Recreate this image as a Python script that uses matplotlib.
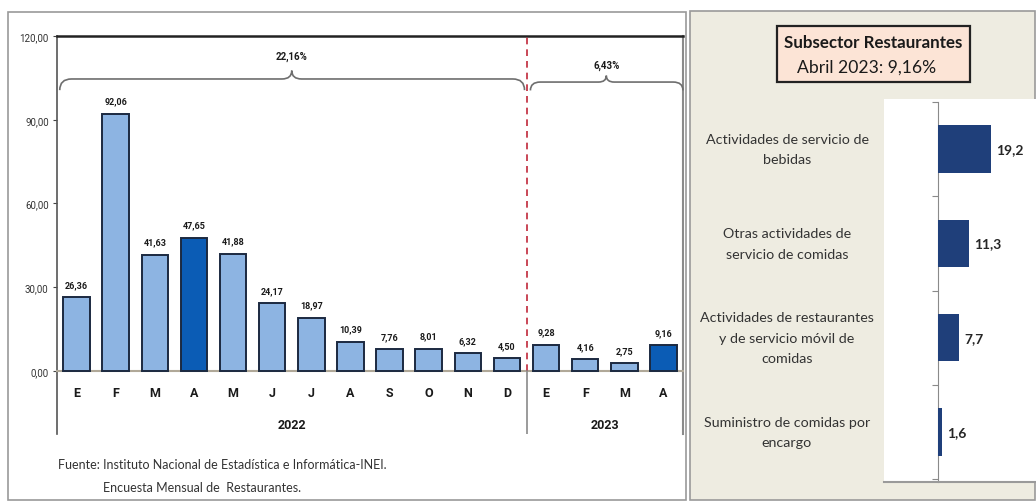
import numpy as np
import matplotlib
matplotlib.use("Agg")
import matplotlib.pyplot as plt
from matplotlib.patches import Rectangle, PathPatch
from matplotlib.path import Path
from matplotlib.transforms import blended_transform_factory

# data
months = ["E", "F", "M", "A", "M", "J", "J", "A", "S", "O", "N", "D",
          "E", "F", "M", "A"]
values = [26.36, 92.06, 41.63, 47.65, 41.88, 24.17, 18.97, 10.39, 7.76,
          8.01, 6.32, 4.50, 9.28, 4.16, 2.75, 9.16]
highlight = [3, 15]
years = ["2022", "2023"]
year_growth = ["22,16%", "6,43%"]

activities = ["Actividades de servicio de\nbebidas",
              "Otras actividades de\nservicio de comidas",
              "Actividades de restaurantes\ny de servicio móvil de\ncomidas",
              "Suministro de comidas por\nencargo"]
act_values = [19.2, 11.3, 7.7, 1.6]

W, H = 1036, 502
NARROW = ["Roboto", "DejaVu Sans"]
SOFT = ["Lato", "DejaVu Sans"]


def fx(px):
    return px / W


def fy(py):
    return 1 - py / H


def fmt(v, d=2):
    return f"{v:.{d}f}".replace(".", ",")


fig = plt.figure(figsize=(W / 100, H / 100), dpi=100)

# panel backgrounds
fig.patches.append(Rectangle((fx(8), fy(501)), fx(686) - fx(8), fy(13) - fy(501),
                             transform=fig.transFigure, facecolor="white",
                             edgecolor="#9a9a9a", lw=1.2, zorder=-5))
fig.patches.append(Rectangle((fx(690), fy(501)), fx(1035) - fx(690), fy(12) - fy(501),
                             transform=fig.transFigure, facecolor="#eeece1",
                             edgecolor="#9a9a9a", lw=1.2, zorder=-5))

# ---- left chart ----
ax = fig.add_axes([fx(57), fy(435), fx(683) - fx(57), fy(37) - fy(435)])
ax.set_facecolor("none")
x = np.arange(len(values))
colors = ["#0b5cb5" if i in highlight else "#8db4e2" for i in x]
ax.bar(x, values, width=0.68, color=colors, edgecolor="#1b2940", lw=1.4, zorder=3)
for xi, v in zip(x, values):
    ax.annotate(fmt(v), (xi, v), xytext=(0, 6), textcoords="offset points",
                ha="center", va="bottom", fontsize=6.5, fontweight="bold",
                family=NARROW, color="#1a1a1a")

ax.set_xlim(-0.5, len(values) - 0.5)
ax.set_ylim(-22.6, 120)
ax.set_yticks([0, 30, 60, 90, 120])
ax.set_yticklabels([fmt(t) for t in [0, 30, 60, 90, 120]], family=NARROW,
                   fontsize=7, color="#333333")
ax.tick_params(axis="y", length=3, width=0.8, color="#444444", pad=3)
ax.spines["bottom"].set_position(("data", 0))
ax.spines["bottom"].set_color("#b0a898")
ax.spines["bottom"].set_linewidth(1.5)
ax.spines["left"].set_color("#555555")
ax.spines["left"].set_linewidth(1.2)
ax.spines["top"].set_color("#222222")
ax.spines["top"].set_linewidth(1.8)
ax.spines["right"].set_color("#8a8a8a")
ax.spines["right"].set_linewidth(1.5)
ax.set_xticks(x)
ax.set_xticklabels(months, fontsize=9, fontweight="bold", family=NARROW,
                   color="#1a1a1a")
ax.tick_params(axis="x", length=0, pad=11)

# year divider
ax.plot([11.5, 11.5], [0, 120], color="#c0283a", lw=1.2, ls=(0, (4, 3)), zorder=4)
ax.plot([11.5, 11.5], [-22.6, 0], color="#8a8a8a", lw=1.2, zorder=4)
ax.text(5.5, -19.2, years[0], ha="center", va="center", fontsize=9,
        fontweight="bold", family=NARROW, color="#1a1a1a")
ax.text(13.5, -19.2, years[1], ha="center", va="center", fontsize=9,
        fontweight="bold", family=NARROW, color="#1a1a1a")


def brace(ax, x0, x1, xm, yb, drop, rise, r=0.3, tr=0.25):
    verts = [(x0, yb - drop), (x0, yb), (x0 + r, yb),
             (xm - tr, yb), (xm, yb), (xm, yb + rise),
             (xm, yb), (xm + tr, yb),
             (x1 - r, yb), (x1, yb), (x1, yb - drop)]
    codes = [Path.MOVETO, Path.CURVE3, Path.CURVE3,
             Path.LINETO, Path.CURVE3, Path.CURVE3,
             Path.CURVE3, Path.CURVE3,
             Path.LINETO, Path.CURVE3, Path.CURVE3]
    ax.add_patch(PathPatch(Path(verts, codes), facecolor="none",
                           edgecolor="#6e6e6e", lw=1.2, clip_on=False, zorder=5))


brace(ax, -0.43, 11.45, 5.5, 104.6, 4.0, 3.0)
brace(ax, 11.6, 15.5, 13.54, 103.5, 3.0, 2.3, r=0.25, tr=0.2)
ax.text(5.5, 112.8, year_growth[0], ha="center", va="center", fontsize=7,
        fontweight="bold", family=NARROW, color="#1a1a1a")
ax.text(13.54, 109.6, year_growth[1], ha="center", va="center", fontsize=7,
        fontweight="bold", family=NARROW, color="#1a1a1a")

fig.text(fx(58), fy(465), "Fuente: Instituto Nacional de Estadística e Informática-INEI.",
         ha="left", va="center", fontsize=9, family=SOFT, color="#333333")
fig.text(fx(103), fy(488), "Encuesta Mensual de  Restaurantes.",
         ha="left", va="center", fontsize=9, family=SOFT, color="#333333")

# ---- right chart ----
fig.patches.append(Rectangle((fx(777), fy(83)), fx(970) - fx(777), fy(27) - fy(83),
                             transform=fig.transFigure, facecolor="#fce4d6",
                             edgecolor="#222222", lw=1.6, zorder=2))
fig.text(fx(873), fy(43), "Subsector Restaurantes", ha="center", va="center",
         fontsize=12.2, fontweight="bold", family=SOFT, color="#1a1a1a", zorder=3)
fig.text(fx(867), fy(68), "Abril 2023: 9,16%", ha="center", va="center",
         fontsize=12.6, family=SOFT, color="#1a1a1a", zorder=3)

ax2 = fig.add_axes([fx(884), fy(483), fx(1036) - fx(884), fy(100) - fy(483)])
ax2.set_facecolor("white")
pos = np.arange(len(activities))
ax2.barh(pos, act_values, height=0.5, color="#1f3f7a", zorder=3)
for p, v in zip(pos, act_values):
    ax2.annotate(fmt(v, 1), (v, p), xytext=(3.5, 0), textcoords="offset points",
                 ha="left", va="center", fontsize=10, fontweight="bold",
                 family=SOFT, color="#262626")
ax2.set_xlim(-19.5, 35.4)
ax2.set_ylim(3.53, -0.53)
for s in ["top", "right"]:
    ax2.spines[s].set_visible(False)
ax2.spines["left"].set_position(("data", 0))
ax2.spines["left"].set_bounds(-0.5, 3.53)
ax2.spines["left"].set_color("#8a8a8a")
ax2.spines["bottom"].set_color("#9a9a9a")
ax2.spines["bottom"].set_linewidth(1.5)
ax2.set_xticks([])
ax2.set_yticks(np.arange(-0.5, 4.0, 1.0))
ax2.set_yticklabels([])
ax2.tick_params(axis="y", length=4, color="#8a8a8a", direction="out")

tr = blended_transform_factory(fig.transFigure, ax2.transData)
for p, lab in zip(pos, activities):
    ax2.text(fx(787), p, lab, transform=tr, ha="center", va="center",
             multialignment="center", fontsize=10.3, family=SOFT, color="#333333",
             linespacing=1.85)

fig.savefig("out.png", dpi=100)
